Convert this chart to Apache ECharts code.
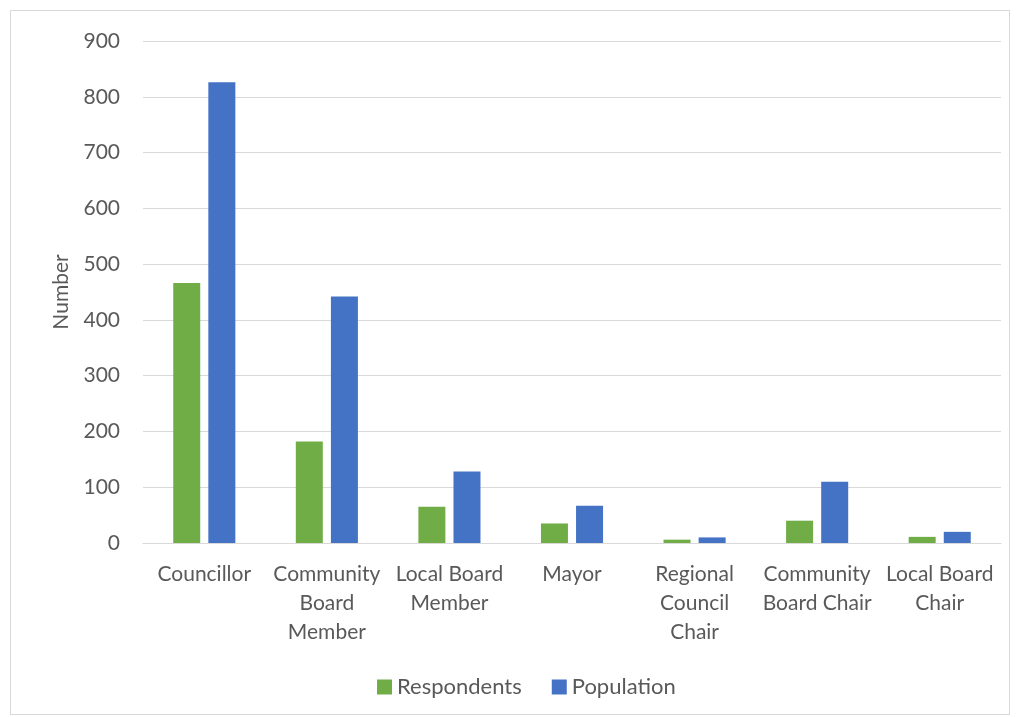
<!DOCTYPE html>
<html><head><meta charset="utf-8">
<script src="https://cdn.jsdelivr.net/npm/echarts@6/dist/echarts.min.js"></script>
<style>html,body{margin:0;padding:0;background:#fff;}#wrap{position:absolute;left:10px;top:10px;width:1000px;height:705px;border:1px solid #d9d9d9;box-sizing:border-box;}#c{position:absolute;left:0;top:0;width:1016px;height:717px;}</style>
</head><body><div id="wrap"></div><div id="c"></div>
<script>
const categories = ["Councillor","Community Board Member","Local Board Member","Mayor","Regional Council Chair","Community Board Chair","Local Board Chair"];
const categoryLabels = ["Councillor","Community\nBoard\nMember","Local Board\nMember","Mayor","Regional\nCouncil\nChair","Community\nBoard Chair","Local Board\nChair"];
const respondents = [466, 182, 65, 35, 6, 40, 11];
const population = [826, 442, 128, 67, 10, 110, 20];
const yTicks = [0,100,200,300,400,500,600,700,800,900];

const chart = echarts.init(document.getElementById('c'));
const font = 'Lato, "Open Sans", sans-serif';
chart.setOption({
  animation:false,
  textStyle:{fontFamily:font},
  grid:{left:143,right:15,top:41,bottom:174,containLabel:false},
  legend:{bottom:14,left:372,itemWidth:15,itemHeight:15,itemGap:30,icon:'rect',
    textStyle:{fontSize:22,color:'#595959',fontFamily:font},
    data:['Respondents','Population']},
  xAxis:{type:'category',data:categories,
    axisLine:{lineStyle:{color:'#d9d9d9'}},axisTick:{show:false},
    axisLabel:{interval:0,fontSize:21,color:'#595959',lineHeight:29,margin:17,fontFamily:font,
      formatter:(v,i)=>categoryLabels[i]}},
  yAxis:{type:'value',min:yTicks[0],max:yTicks[yTicks.length-1],interval:100,
    name:'Number',nameLocation:'middle',nameGap:71,nameRotate:90,
    nameTextStyle:{fontSize:21,color:'#595959',fontFamily:font},
    axisLabel:{fontSize:21,color:'#595959',margin:23,fontFamily:font},
    axisLine:{show:false},axisTick:{show:false},
    splitLine:{lineStyle:{color:'#d9d9d9',width:1}}},
  series:[
    {name:'Respondents',type:'bar',data:respondents,barWidth:27,barGap:'30%',itemStyle:{color:'#70ad47'}},
    {name:'Population',type:'bar',data:population,barWidth:27,barGap:'30%',itemStyle:{color:'#4472c4'}}
  ]
});
</script></body></html>
